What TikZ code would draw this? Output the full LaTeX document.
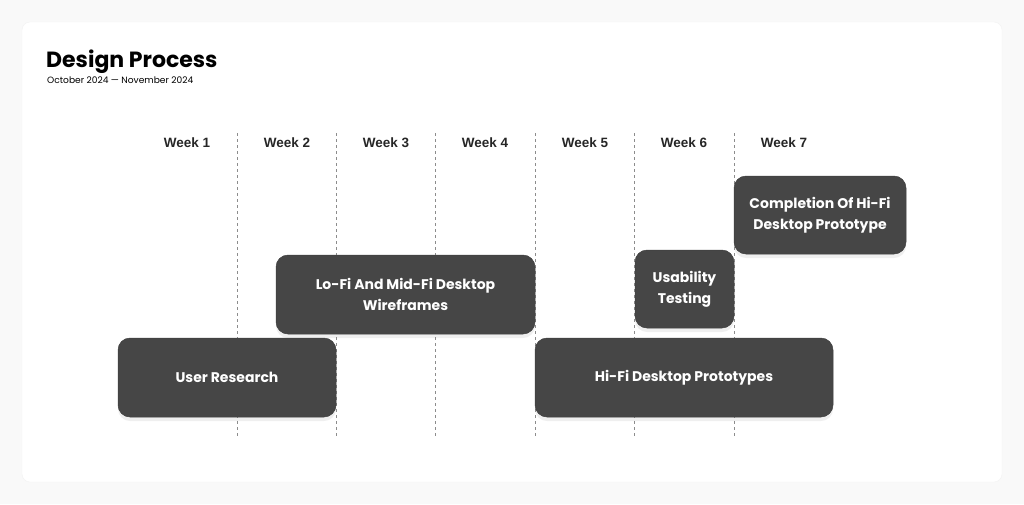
\documentclass[tikz,border=0pt]{standalone}
\usepackage{fontspec}
\setmainfont{Poppins}
\newfontfamily\weekfont{Liberation Sans}
\usetikzlibrary{positioning, shadows}
\definecolor{boxgray}{HTML}{464646}
\definecolor{pagegray}{HTML}{F9F9F9}

\begin{document}
\begin{tikzpicture}[x=1pt, y=-1pt,
  task/.style={rectangle, rounded corners=12pt, fill=boxgray, draw=black!75, line width=0.5pt, text=white, align=center, inner sep=0pt, minimum height=79pt, font=\bfseries\fontsize{14}{21}\selectfont, drop shadow={shadow xshift=0pt, shadow yshift=-4pt, opacity=0.12}},
  week/.style={font=\weekfont\bfseries\fontsize{13.5}{16}\selectfont, text=black!85},
  sep/.style={dashed, black!45, line width=0.6pt}]
\useasboundingbox (0,0) rectangle (1024,504);
\fill[pagegray] (0,0) rectangle (1024,504);
\filldraw[white, draw=black!5, rounded corners=8pt] (22,22) rectangle (1002,482);

% header
\node[anchor=base west, inner sep=0pt, font=\bfseries\fontsize{22}{27}\selectfont] (title) at (46,67) {Design Process};
\node[anchor=base west, inner sep=0pt, font=\fontsize{9.1}{11}\selectfont] (subtitle) at (47,83) {October 2024 — November 2024};

% weeks
\node[week] (week1) at (187,142.5) {Week 1};
\node[week] (week2) at (287,142.5) {Week 2};
\node[week] (week3) at (386,142.5) {Week 3};
\node[week] (week4) at (485,142.5) {Week 4};
\node[week] (week5) at (585,142.5) {Week 5};
\node[week] (week6) at (684,142.5) {Week 6};
\node[week] (week7) at (784,142.5) {Week 7};

\draw[sep] (237,133) -- (237,437);
\draw[sep] (336,133) -- (336,437);
\draw[sep] (435,133) -- (435,437);
\draw[sep] (535,133) -- (535,437);
\draw[sep] (634,133) -- (634,437);
\draw[sep] (734,133) -- (734,437);

% tasks
\node[task, minimum width=218pt] (research) at (227,377.5) {User Research};
\node[task, minimum width=259pt] (wireframes) at (405.5,294.5) {Lo-Fi And Mid-Fi Desktop\\Wireframes};
\node[task, minimum width=298pt] (hifi) at (684,377.5) {Hi-Fi Desktop Prototypes};
\node[task, minimum width=99pt, minimum height=78pt] (testing) at (684.5,289) {Usability\\Testing};
\node[task, minimum width=172pt, minimum height=78pt] (completion) at (820,215) {Completion Of Hi-Fi\\Desktop Prototype};

\end{tikzpicture}
\end{document}
